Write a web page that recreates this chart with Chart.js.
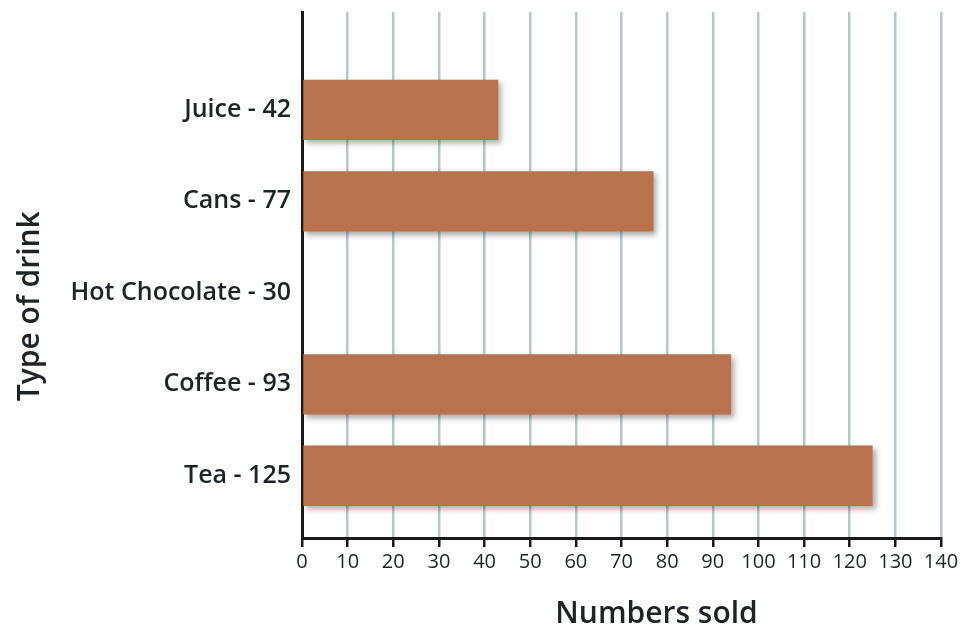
<!DOCTYPE html>
<html>
<head>
<meta charset="utf-8">
<script src="https://cdn.jsdelivr.net/npm/chart.js@4/dist/chart.umd.min.js"></script>
<style>
  html, body { margin: 0; padding: 0; background: #fff; }
  #wrap { width: 962px; height: 636px; }
</style>
</head>
<body>
<div id="wrap"><canvas id="drinksChart"></canvas></div>
<script>
// Drinks sold - horizontal bar chart
const drinkLabels = ['Juice - 42', 'Cans - 77', 'Hot Chocolate - 30', 'Coffee - 93', 'Tea - 125'];
// bar lengths as drawn (no bar is drawn for hot chocolate)
const soldValues = [43, 77, null, 94, 125];
const xTicks = [0, 10, 20, 30, 40, 50, 60, 70, 80, 90, 100, 110, 120, 130, 140];

const textColor = '#1f2326';
const barColor = '#b8734e';
const fontName = "'Open Sans', sans-serif";

// soft drop shadow under the bars
const shadowPlugin = {
    id: 'barShadow',
    beforeDatasetsDraw(chart) {
        const ctx = chart.ctx;
        ctx.save();
        ctx.shadowColor = 'rgba(0, 0, 0, 0.35)';
        ctx.shadowBlur = 6;
        ctx.shadowOffsetX = 3;
        ctx.shadowOffsetY = 3;
    },
    afterDatasetsDraw(chart) {
        chart.ctx.restore();
    }
};

const ctx = document.getElementById('drinksChart').getContext('2d');
new Chart(ctx, {
    type: 'bar',
    data: {
        labels: drinkLabels,
        datasets: [{
            label: 'Numbers sold',
            data: soldValues,
            backgroundColor: barColor,
            borderWidth: 0,
            categoryPercentage: 1,
            barPercentage: 0.66
        }]
    },
    options: {
        indexAxis: 'y',
        responsive: true,
        maintainAspectRatio: false,
        animation: false,
        layout: { padding: { top: 12, right: 21, left: 0, bottom: 0 } },
        plugins: {
            legend: { display: false },
            tooltip: { enabled: false }
        },
        scales: {
            x: {
                min: xTicks[0],
                max: xTicks[xTicks.length - 1],
                afterBuildTicks: (scale) => {
                    scale.ticks = xTicks.map(v => ({ value: v }));
                },
                afterFit: (scale) => {
                    scale.height = 98;
                    scale.paddingLeft = 0;
                    scale.paddingRight = 0;
                },
                grid: {
                    color: '#b3c9ca',
                    lineWidth: 2.5,
                    tickColor: '#1a1a1a',
                    tickWidth: 2.5,
                    tickLength: 9
                },
                border: { display: true, color: '#1a1a1a', width: 3 },
                ticks: {
                    color: textColor,
                    font: { family: fontName, size: 20 },
                    padding: 3,
                    maxRotation: 0
                },
                title: {
                    display: true,
                    // leading spaces push the title right, as in the original
                    text: '         Numbers sold',
                    color: textColor,
                    font: { family: fontName, size: 30, weight: '600' },
                    padding: { top: 8 }
                }
            },
            y: {
                // leave room above the first bar and below the last one
                afterBuildTicks: (scale) => {
                    scale._startValue = -1.07;
                    scale._valueRange = 5.75;
                },
                afterFit: (scale) => {
                    scale.width = 302;
                    scale.paddingTop = 0;
                    scale.paddingBottom = 0;
                },
                grid: { color: 'rgba(0,0,0,0)', drawTicks: false },
                border: { display: true, color: '#1a1a1a', width: 3 },
                ticks: {
                    color: textColor,
                    font: { family: fontName, size: 25, weight: '600' },
                    padding: 11
                },
                title: {
                    display: true,
                    // trailing spaces push the rotated title down
                    text: 'Type of drink        ',
                    color: textColor,
                    font: { family: fontName, size: 30, weight: '600' },
                    padding: { top: 12, bottom: 0 }
                }
            }
        }
    },
    plugins: [shadowPlugin]
});
</script>
</body>
</html>
